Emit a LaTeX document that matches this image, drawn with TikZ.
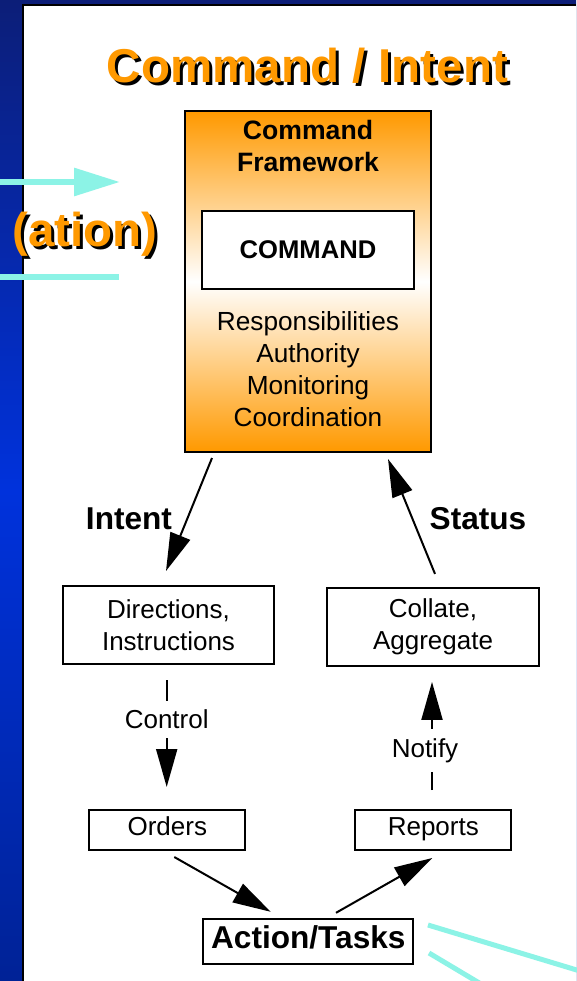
\documentclass[tikz,border=0pt]{standalone}
\usepackage{fontspec}
\setmainfont{Liberation Sans}
\usetikzlibrary{arrows.meta,calc}
\definecolor{slideorange}{RGB}{255,153,0}
\definecolor{aqua}{RGB}{140,243,230}
\definecolor{bluetop}{RGB}{12,30,120}
\definecolor{bluemid}{RGB}{0,50,220}
\definecolor{bluebot}{RGB}{0,34,150}
% orange heading with a black drop shadow behind it
\newcommand\shadowedheading[1]{%
  \makebox[0pt][l]{\kern3pt\raisebox{-3pt}{\textcolor{black}{#1}}}%
  \textcolor{slideorange}{#1}}
\begin{document}
\begin{tikzpicture}[x=1pt,y=-1pt,
  every node/.style={inner sep=0pt, outer sep=0pt},
  box/.style={draw=black, line width=2pt, fill=white,
    font=\fontsize{26}{32}\selectfont, align=center},
  plain/.style={font=\fontsize{26}{32}\selectfont},
  bigbold/.style={font=\fontsize{31.6}{36}\selectfont\bfseries},
  headline/.style={font=\fontsize{47.5}{52}\selectfont\bfseries, anchor=base},
  flow/.style={line width=2pt, -{Triangle[length=38pt,width=21pt]}},
  ribbon/.style={draw=aqua, line width=5pt},
  flowlabel/.style={plain, fill=white, inner xsep=4pt, inner ysep=9pt},
]
\useasboundingbox (0,0) rectangle (576,981);

% slide background and white panel
\fill[top color=bluetop, bottom color=bluebot, middle color=bluemid]
  (0,0) rectangle (576,981);
\fill[white] (24,6) rectangle (576,981);
\draw[line width=2pt] (23,981) -- (23,5) -- (576,5);

% aqua ribbons running off the panel
\coordinate (ribA1) at (0,182);
\coordinate (ribA2) at (120,182);
\draw[draw=aqua, line width=6pt, -{Triangle[length=46pt,width=27pt]}] (ribA1) -- (ribA2);
\coordinate (ribB1) at (0,277);
\coordinate (ribB2) at (119,277);
\draw[ribbon] (ribB1) -- (ribB2);
\coordinate (ribC1) at (428,925);
\coordinate (ribC2) at (580,971);
\draw[ribbon] (ribC1) -- (ribC2);
\coordinate (ribD1) at (429,953);
\coordinate (ribD2) at (481,984);
\draw[ribbon] (ribD1) -- (ribD2);

% shadowed headings
\node[headline] (title) at (307.5,82.5) {\shadowedheading{Command / Intent}};
\node[headline] (ation) at (85,246.5) {\shadowedheading{(ation)}};

% command framework block
\node[draw=black, line width=2pt, top color=slideorange, bottom color=slideorange,
  middle color=white, minimum width=246pt, minimum height=340pt] (cf) at (308,281.5) {};
\node[font=\fontsize{26.6}{31.7}\selectfont\bfseries, align=center] (cftitle)
  at (308,146.3) {Command\\Framework};
\node[box, line width=1.5pt, minimum width=212pt, minimum height=78pt,
  font=\fontsize{25.6}{30}\selectfont\bfseries, text height=18.3pt, text depth=1.7pt]
  (cmd) at (308,250) {COMMAND};
\node[font=\fontsize{26.2}{32}\selectfont, align=center] (duties) at (308,369.6)
  {Responsibilities\\Authority\\Monitoring\\Coordination};

% flow boxes
\node[box, minimum width=211.6pt, minimum height=78pt] (dir) at (168.5,625) {Directions,\\Instructions};
\node[box, minimum width=212.6pt, minimum height=78pt] (col) at (433,626.9) {Collate,\\Aggregate};
\node[box, minimum width=156pt, minimum height=40pt, text height=18.6pt, text depth=8pt]
  (orders) at (167.3,830) {Orders};
\node[box, minimum width=156pt, minimum height=40pt, text height=18.6pt, text depth=8pt]
  (reports) at (433.3,830) {Reports};
\node[box, bigbold, minimum width=210pt, minimum height=45pt, text height=23pt, text depth=9.2pt]
  (act) at (308.3,941.8) {Action/Tasks};

% arrow labels
\node[bigbold, anchor=base] (intent) at (129,529.3) {Intent};
\node[bigbold, anchor=base] (status) at (478,529.3) {Status};

% connector ends
\coordinate (intentTail) at ($(cf.south)+(-96,6.5)$);
\coordinate (intentHead) at ($(dir.north)+(-2.5,-15)$);
\coordinate (statusTail) at ($(col.north)+(2,-14)$);
\coordinate (statusHead) at ($(cf.south)+(80,7.5)$);
\coordinate (ctrlTail) at ($(dir.south)+(-1.8,16)$);
\coordinate (ctrlHead) at ($(orders.north)+(-0.6,-23)$);
\coordinate (notifyTail) at ($(reports.north)+(-1.3,-20)$);
\coordinate (notifyHead) at ($(col.south)+(-1,16)$);
\coordinate (ordTail) at ($(orders.south)+(7,7)$);
\coordinate (ordHead) at ($(act.north)+(-37.6,-7.5)$);
\coordinate (repTail) at ($(act.north)+(27.7,-6.5)$);
\coordinate (repHead) at ($(reports.south)+(-1,8)$);

% connectors
\draw[flow] (intentTail) -- (intentHead);
\draw[flow] (statusTail) -- (statusHead);
\draw[flow] (ctrlTail) -- (ctrlHead) node[flowlabel, pos=0.37] (ctrl) {Control};
\draw[flow] (notifyTail) -- (notifyHead) node[flowlabel, pos=0.365, xshift=-7pt] (notify) {Notify};
\draw[flow] (ordTail) -- (ordHead);
\draw[flow] (repTail) -- (repHead);
\end{tikzpicture}
\end{document}
